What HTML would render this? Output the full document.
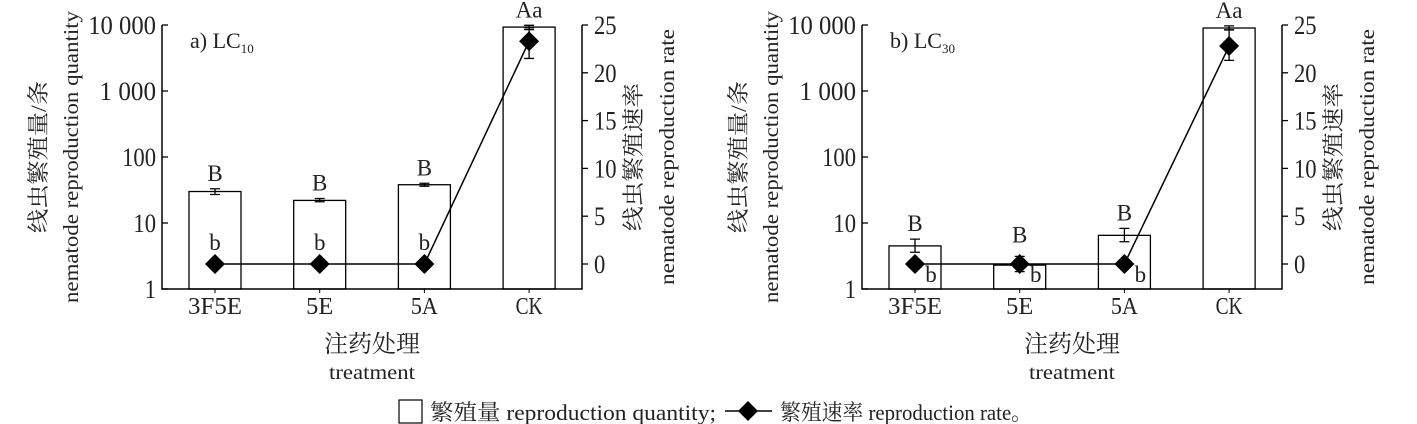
<!DOCTYPE html>
<html><head><meta charset="utf-8"><style>
html,body{margin:0;padding:0;background:#fff;}
svg{display:block;font-family:"Liberation Serif","Noto Serif CJK SC",serif;}
</style></head><body>
<svg id="chart" width="1417" height="424" viewBox="0 0 1417 424">
<g id="legend">
<rect x="399" y="400" width="23" height="23" fill="#fff" stroke="#000" stroke-width="1.2"/>
<text x="430" y="420" font-size="22" fill="#222" textLength="286" lengthAdjust="spacingAndGlyphs">繁殖量 reproduction quantity;</text>
<line x1="725" y1="411" x2="772" y2="411" stroke="#000" stroke-width="1.5"/>
<path d="M748 401 L758 411 L748 421 L738 411 Z" fill="#000"/>
<text x="780" y="420" font-size="22" fill="#222" textLength="252" lengthAdjust="spacingAndGlyphs">繁殖速率 reproduction rate。</text>
</g>
</svg>
<script>
const categories = ["3F5E","5E","5A","CK"];
const qtyA = [30,22,38,9300];
const qtyErrLoA = [27,21,36,8500];
const qtyErrHiA = [33,23.5,40,9900];
const rateA = [0,0,0,23.3];
const rateErrLoA = [0,0,0,21.5];
const rateErrHiA = [0,0,0,24.7];
const qtyB = [4.5,2.3,6.5,9000];
const qtyErrLoB = [3.6,2.3,5.2,8400];
const qtyErrHiB = [5.7,2.3,8.3,9700];
const rateB = [0,0,0,22.8];
const rateErrLoB = [0,-0.8,0,21.3];
const rateErrHiB = [0,0.8,0,24.5];
const capsA = ["B","B","B","Aa"];
const smallA = ["b","b","b",""];
const capsB = ["B","B","B","Aa"];
const smallB = ["b","b","b",""];
const leftTicks = [1,10,100,1000,10000];
const leftTickLabels = ["1","10","100","1 000","10 000"];
const rightTicks = [0,5,10,15,20,25];

const NS="http://www.w3.org/2000/svg";
const svg=document.getElementById('chart');
function mk(tag,attrs,parent,text){const e=document.createElementNS(NS,tag);for(const k in attrs)e.setAttribute(k,attrs[k]);if(text!==undefined)e.textContent=text;(parent||svg).appendChild(e);return e;}

function panel(ox,title,sub,qty,qlo,qhi,rate,rlo,rhi,caps,small,smallRight){
  const g=mk('g',{});
  
  
  const L=ox+162,R=ox+582,top=25,bot=289;
  const yL=v=>289-Math.log10(v)*66;
  const yR=v=>264-v*9.56;
  const xc=i=>ox+215+i*104.7;
  const bw=52;
  categories.forEach((c,i)=>{
    const b=mk('rect',{x:xc(i)-bw/2,y:yL(qty[i]),width:bw,height:bot-yL(qty[i]),fill:'#fff',stroke:'#000','stroke-width':1.3},g);
    
    
    if(qhi[i]>qlo[i]){
      const e=mk('path',{d:`M${xc(i)} ${yL(qhi[i])}V${yL(qlo[i])}M${xc(i)-5} ${yL(qhi[i])}h10M${xc(i)-5} ${yL(qlo[i])}h10`,stroke:'#000','stroke-width':1.3,fill:'none'},g);
      
      
    }
  });
  const ax=mk('path',{d:`M${L} ${top}V${bot}H${R}V${top}`,stroke:'#000','stroke-width':1.5,fill:'none'},g);
  
  
  leftTicks.forEach((t,i)=>{
    mk('line',{x1:L,x2:L+6,y1:yL(t),y2:yL(t),stroke:'#000','stroke-width':1.3},g);
    const tx=mk('text',{x:L-6,y:yL(t)+9,'font-size':26,'text-anchor':'end',fill:'#222','textLength':leftTickLabels[i].length*11.3,'lengthAdjust':'spacingAndGlyphs'},g,leftTickLabels[i]);
    
    
  });
  rightTicks.forEach(t=>{
    mk('line',{x1:R,x2:R+6,y1:yR(t),y2:yR(t),stroke:'#000','stroke-width':1.3},g);
    const tx=mk('text',{x:R+12,y:yR(t)+9,'font-size':26,fill:'#222','textLength':String(t).length*11.3,'lengthAdjust':'spacingAndGlyphs'},g,String(t));
    
    
  });
  categories.forEach((c,i)=>{
    mk('line',{x1:xc(i),x2:xc(i),y1:bot,y2:bot+4,stroke:'#000','stroke-width':1},g);
    const tx=mk('text',{x:xc(i),y:bot+25,'font-size':24,'text-anchor':'middle',fill:'#222','textLength':c.length*13.5,'lengthAdjust':'spacingAndGlyphs'},g,c);
    
    
  });
  const pts=rate.map((v,i)=>`${xc(i)},${yR(v)}`).join(' ');
  const ln=mk('polyline',{points:pts,fill:'none',stroke:'#000','stroke-width':1.5},g);
  
  
  rate.forEach((v,i)=>{
    if(rhi[i]>rlo[i]){
      const e=mk('path',{d:`M${xc(i)} ${yR(rhi[i])}V${yR(rlo[i])}M${xc(i)-5} ${yR(rhi[i])}h10M${xc(i)-5} ${yR(rlo[i])}h10`,stroke:'#000','stroke-width':1.3,fill:'none'},g);
      
      
    }
    const d=mk('path',{d:`M${xc(i)} ${yR(v)-10}l10 10l-10 10l-10 -10Z`,fill:'#000'},g);
    
    
  });
  caps.forEach((s,i)=>{
    let ytop=Math.min(yL(qhi[i]),yL(qty[i]));
    if(rhi[i]>rlo[i]&&i<3) ytop=Math.min(ytop,yR(rhi[i])-6);
    const tx=mk('text',{x:xc(i),y:ytop-8,'font-size':23,'text-anchor':'middle',fill:'#222'},g,s);
    
    
  });
  small.forEach((s,i)=>{
    if(!s)return;
    const tx=smallRight?mk('text',{x:xc(i)+16,y:yR(rate[i])+18,'font-size':23,'text-anchor':'middle',fill:'#222'},g,s)
      :mk('text',{x:xc(i),y:yR(rate[i])-14,'font-size':23,'text-anchor':'middle',fill:'#222'},g,s);
    
    
  });
  const pl=mk('text',{x:L+28,y:48,'font-size':22,fill:'#222'},g);
  
  
  mk('tspan',{},pl,title);
  mk('tspan',{'font-size':13,dy:5},pl,sub);
  const t1=mk('text',{x:0,y:0,'font-size':22,'text-anchor':'middle',fill:'#222','textLength':152,'lengthAdjust':'spacingAndGlyphs',transform:`translate(${ox+46},157) rotate(-90)`},g,'线虫繁殖量/条');
  
  
  const t2=mk('text',{x:0,y:0,'font-size':21,'text-anchor':'middle',fill:'#222','textLength':292,'lengthAdjust':'spacingAndGlyphs',transform:`translate(${ox+78},157) rotate(-90)`},g,'nematode reproduction quantity');
  
  
  const t3=mk('text',{x:0,y:0,'font-size':22,'text-anchor':'middle',fill:'#222','textLength':148,'lengthAdjust':'spacingAndGlyphs',transform:`translate(${ox+641},157) rotate(-90)`},g,'线虫繁殖速率');
  
  
  const t4=mk('text',{x:0,y:0,'font-size':21,'text-anchor':'middle',fill:'#222','textLength':256,'lengthAdjust':'spacingAndGlyphs',transform:`translate(${ox+674},157) rotate(-90)`},g,'nematode reproduction rate');
  
  
  const t5=mk('text',{x:ox+372,y:352,'font-size':24,'text-anchor':'middle',fill:'#222','textLength':96,'lengthAdjust':'spacingAndGlyphs'},g,'注药处理');
  
  
  const t6=mk('text',{x:ox+372,y:379,'font-size':20,'text-anchor':'middle',fill:'#222','textLength':86,'lengthAdjust':'spacingAndGlyphs'},g,'treatment');
  
  
}
panel(0,'a) LC','10',qtyA,qtyErrLoA,qtyErrHiA,rateA,rateErrLoA,rateErrHiA,capsA,smallA,false);
panel(700,'b) LC','30',qtyB,qtyErrLoB,qtyErrHiB,rateB,rateErrLoB,rateErrHiB,capsB,smallB,true);
</script>
</body></html>
